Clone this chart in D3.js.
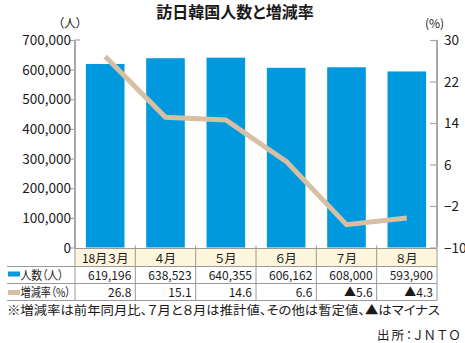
<!DOCTYPE html>
<html><head><meta charset="utf-8">
<script src="https://cdn.jsdelivr.net/npm/d3@7"></script>
<style>
html,body{margin:0;padding:0;background:#fff;}
text{font-family:"Noto Sans CJK JP","Noto Sans",sans-serif;fill:#1a1a1a;font-feature-settings:"palt";}
</style></head>
<body><svg id="c" width="465" height="343"></svg>
<script>
const categories = ["18月３月","４月","５月","６月","７月","８月"];
const visitors = [619196, 638523, 640355, 606162, 608000, 593900];
const rates = [26.8, 15.1, 14.6, 6.6, -5.6, -4.3];
const visitorLabels = ["619,196","638,523","640,355","606,162","608,000","593,900"];
const rateLabels = ["26.8","15.1","14.6","6.6","▲5.6","▲4.3"];
const leftTicks = [0,100000,200000,300000,400000,500000,600000,700000];
const rightTicks = [-10,-2,6,14,22,30];
const rowLabels = ["人数（人）","増減率（%）"];
const title = "訪日韓国人数と増減率";
const note = "※増減率は前年同月比、７月と８月は推計値、その他は暫定値、▲はマイナス";
const source = "出所：ＪＮＴＯ";

const svg = d3.select("#c");
const L = 75, R = 437, T = 40, B = 247.5;
const blue = "#0099dd", tan = "#d7bfa4", axisC = "#a8a8a8", gridC = "#9a9a9a";

const x = d3.scaleBand().domain(categories).range([L, R]).paddingInner(0.36).paddingOuter(0.18);
const col = d3.scaleBand().domain(categories).range([L, R]);
const yL = d3.scaleLinear().domain([0, 700000]).range([B, T]);
const yR = d3.scaleLinear().domain([-10, 30]).range([B, T]);

// title
svg.append("text").attr("x", 235).attr("y", 18).attr("text-anchor","middle")
  .attr("font-size", 16).attr("font-weight","bold").text(title);
svg.append("text").attr("x", 58).attr("y", 28).attr("font-size", 12).text("（人）");
svg.append("text").attr("x", 425).attr("y", 28).attr("font-size", 12).text("(%)");

// bars
svg.selectAll("rect.bar").data(categories).join("rect")
  .attr("x", d => x(d)).attr("width", x.bandwidth())
  .attr("y", (d,i) => yL(visitors[i])).attr("height", (d,i) => B - yL(visitors[i]))
  .attr("fill", blue);

// line
const line = d3.line().x((d,i) => col(categories[i]) + col.bandwidth()/2).y(d => yR(d));
svg.append("path").datum(rates).attr("d", line).attr("fill","none")
  .attr("stroke", tan).attr("stroke-width", 5).attr("stroke-linejoin","miter");

// left axis
const gl = svg.append("g").attr("transform", `translate(${L},0)`)
  .call(d3.axisLeft(yL).tickValues(leftTicks).tickSize(5).tickFormat(d3.format(",")));
gl.select(".domain").remove();
gl.selectAll("line").attr("stroke", axisC).attr("stroke-width",1.2);
gl.selectAll("text").attr("font-size", 13.5).attr("x", -4).attr("dy","0.34em")
  .style("font-family",'"Noto Sans CJK JP",sans-serif').attr("fill","#1a1a1a");
svg.append("line").attr("x1",L).attr("x2",L).attr("y1",T).attr("y2",B)
  .attr("stroke", axisC).attr("stroke-width",2);
svg.append("line").attr("x1",L).attr("x2",L+5).attr("y1",T).attr("y2",T)
  .attr("stroke", axisC).attr("stroke-width",1.2);

// right axis
const gr = svg.append("g").attr("transform", `translate(${R},0)`)
  .call(d3.axisRight(yR).tickValues(rightTicks).tickSize(-7));
gr.select(".domain").remove();
gr.selectAll("line").attr("stroke", axisC).attr("stroke-width",1.2);
gr.selectAll("text").attr("font-size", 13.5).attr("x", 7).attr("dy","0.34em")
  .style("font-family",'"Noto Sans CJK JP",sans-serif').attr("fill","#1a1a1a");
svg.append("line").attr("x1",R).attr("x2",R).attr("y1",T).attr("y2",B)
  .attr("stroke", axisC).attr("stroke-width",2);

// table
const r0 = 248.5, r1 = 266.5, r2 = 283.5, r3 = 300.5, TL = 7;
svg.append("rect").attr("x", L).attr("y", r0).attr("width", R-L).attr("height", r1-r0).attr("fill","#fdf6dc");
const hl = [[L,r0],[TL,r1],[TL,r2],[TL,r3]];
hl.forEach(([x0,yy]) => svg.append("line").attr("x1",x0).attr("x2",R).attr("y1",yy).attr("y2",yy)
  .attr("stroke", gridC).attr("stroke-width",1));
categories.forEach((c,i) => {
  const cx = col(c);
  svg.append("line").attr("x1",cx).attr("x2",cx).attr("y1",r0-3).attr("y2",r3).attr("stroke",gridC).attr("stroke-width",1);
});
svg.append("line").attr("x1",R).attr("x2",R).attr("y1",r0).attr("y2",r3).attr("stroke",gridC).attr("stroke-width",1);

svg.selectAll("text.hdr").data(categories).join("text")
  .attr("x", d => col(d)+col.bandwidth()/2).attr("y", r1-4).attr("text-anchor","middle")
  .attr("font-size", 12).text(d => d);
svg.selectAll("text.v").data(visitorLabels).join("text")
  .attr("x", (d,i) => col(categories[i])+col.bandwidth()-4).attr("y", r2-3.5).attr("text-anchor","end")
  .attr("font-size", 12).text(d => d);
svg.selectAll("text.r").data(rateLabels).join("text")
  .attr("x", (d,i) => col(categories[i])+col.bandwidth()-4).attr("y", r3-3.5).attr("text-anchor","end")
  .attr("font-size", 12).text(d => d);

// row labels with swatches
svg.append("rect").attr("x",8).attr("y",271.5).attr("width",12).attr("height",5).attr("fill",blue);
svg.append("rect").attr("x",8).attr("y",290).attr("width",12).attr("height",5).attr("fill",tan);
svg.append("text").attr("x",20.5).attr("y",r2-3.5).attr("font-size",12)
  .attr("textLength",43).attr("lengthAdjust","spacingAndGlyphs").text(rowLabels[0]);
svg.append("text").attr("x",20.5).attr("y",r3-3.5).attr("font-size",12)
  .attr("textLength",50).attr("lengthAdjust","spacingAndGlyphs").text(rowLabels[1]);

// notes
svg.append("text").attr("x",7).attr("y",314.5).attr("font-size",12.5)
  .attr("textLength",433).attr("lengthAdjust","spacingAndGlyphs").text(note);
svg.append("text").attr("x",377).attr("y",339.5).attr("font-size",12.5)
  .attr("textLength",83).attr("lengthAdjust","spacing").text(source);
</script></body></html>
